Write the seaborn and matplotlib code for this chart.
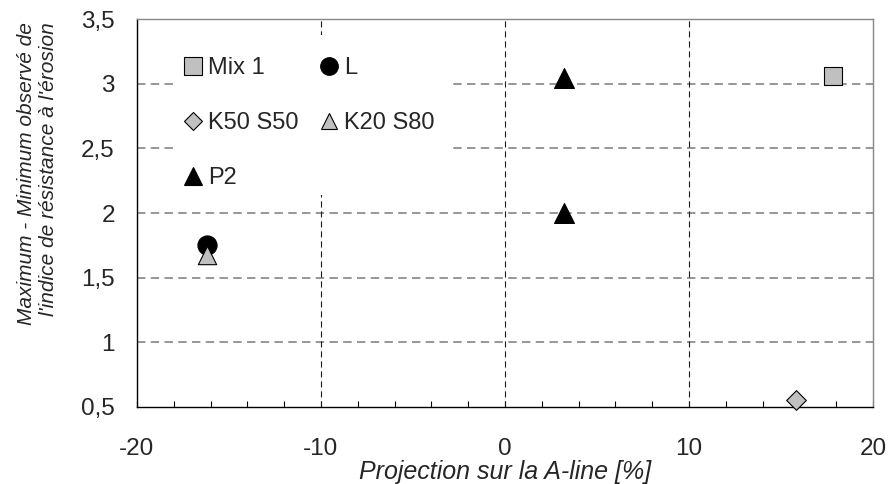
import matplotlib
matplotlib.use("Agg")
import matplotlib.pyplot as plt
from matplotlib.ticker import MultipleLocator, FuncFormatter
from matplotlib.lines import Line2D
from matplotlib.patches import Rectangle
import seaborn as sns
import pandas as pd

# Series values: projection on the A-line [%] and observed max-min erosion index range
mix1_x, mix1_y = [17.8], [3.06]
l_x, l_y = [-16.2], [1.755]
k50s50_x, k50s50_y = [15.8], [0.556]
k20s80_x, k20s80_y = [-16.2], [1.677]
p2_x, p2_y = [3.2, 3.2], [3.04, 2.0]

series_names = ["Mix 1", "L", "K50 S50", "K20 S80", "P2"]
x_ticks = [-20, -10, 0, 10, 20]
y_ticks = [0.5, 1, 1.5, 2, 2.5, 3, 3.5]

sns.set_style("white")
plt.rcParams["font.family"] = ["Liberation Sans", "DejaVu Sans"]

fig = plt.figure(figsize=(8.92, 4.84), dpi=100)
ax = fig.add_axes([137 / 892, 1 - 407 / 484, 736 / 892, 388 / 484])

styles = {
    "Mix 1": dict(marker="s", color="#c0c0c0", s=185),
    "L": dict(marker="o", color="#000000", s=190),
    "K50 S50": dict(marker="D", color="#c0c0c0", s=100),
    "K20 S80": dict(marker="^", color="#c0c0c0", s=175),
    "P2": dict(marker="^", color="#000000", s=205),
}
data = {
    "Mix 1": (mix1_x, mix1_y),
    "L": (l_x, l_y),
    "K50 S50": (k50s50_x, k50s50_y),
    "K20 S80": (k20s80_x, k20s80_y),
    "P2": (p2_x, p2_y),
}

for name in series_names:
    xs, ys = data[name]
    st = styles[name]
    df = pd.DataFrame({"x": xs, "y": ys})
    sns.scatterplot(data=df, x="x", y="y", ax=ax, marker=st["marker"],
                    color=st["color"], s=st["s"], edgecolor="black",
                    linewidth=0.8, zorder=5, clip_on=False, legend=False)

ax.set_xlim(-20, 20)
ax.set_ylim(0.5, 3.5)
ax.set_xticks(x_ticks)
ax.xaxis.set_minor_locator(MultipleLocator(2))
ax.set_yticks(y_ticks)

def comma_fmt(v, pos):
    s = f"{v:g}"
    return s.replace(".", ",")

ax.yaxis.set_major_formatter(FuncFormatter(comma_fmt))
ax.xaxis.set_major_formatter(FuncFormatter(lambda v, p: f"{v:g}"))

# Gridlines
for yv in [1, 1.5, 2, 2.5, 3]:
    ax.axhline(yv, color="#7a7a7a", lw=1.1, ls=(0, (5.5, 3.5)), zorder=1)
for xv in [-10, 0, 10]:
    ax.axvline(xv, color="#1a1a1a", lw=0.8, ls=(0, (5.5, 3.5)), zorder=1)

for side in ["left", "bottom"]:
    ax.spines[side].set_color("black")
    ax.spines[side].set_linewidth(1.0)
for side in ["top", "right"]:
    ax.spines[side].set_color("#868686")
    ax.spines[side].set_linewidth(1.0)

ax.tick_params(axis="x", which="both", direction="in", length=4, width=0.8,
               color="black", labelsize=17.5, pad=22.5, bottom=True)
ax.tick_params(axis="y", which="both", length=0, labelsize=17.5, pad=16)

ax.set_xlabel("Projection sur la A-line [%]", fontsize=18, style="italic",
              labelpad=0)
ax.set_ylabel("")
fig.text(37.5 / 892, 1 - 22 / 484,
         "Maximum - Minimum observé de\nl'indice de résistance à l'érosion",
         rotation=90, ha="center", va="top", multialignment="right",
         fontsize=15, style="italic")

# White panel behind the legend hides the gridlines there
ax.add_patch(Rectangle(((176 - 137) / 736, (407 - 195) / 388),
                       (450 - 176) / 736, (195 - 35) / 388,
                       transform=ax.transAxes, facecolor="white",
                       edgecolor="none", zorder=2))

# Legend: two columns, rows Mix 1 | L, K50 S50 | K20 S80, P2
def handle(name, scale=0.92):
    st = styles[name]
    ms = (st["s"] ** 0.5) * scale
    return Line2D([], [], ls="none", marker=st["marker"], markersize=ms,
                  markerfacecolor=st["color"], markeredgecolor="black",
                  markeredgewidth=0.8, label=name)

order = ["Mix 1", "K50 S50", "P2", "L", "K20 S80"]
leg = ax.legend(handles=[handle(n) for n in order], ncol=2, loc="upper left",
                bbox_to_anchor=((176 - 137) / 736, (407 - 50) / 388),
                borderaxespad=0, borderpad=0.3, fontsize=17,
                frameon=False, handlelength=0.8,
                handletextpad=0.25, labelspacing=1.4, columnspacing=0.9)
leg.set_zorder(3)

fig.savefig("out.png", dpi=100)
